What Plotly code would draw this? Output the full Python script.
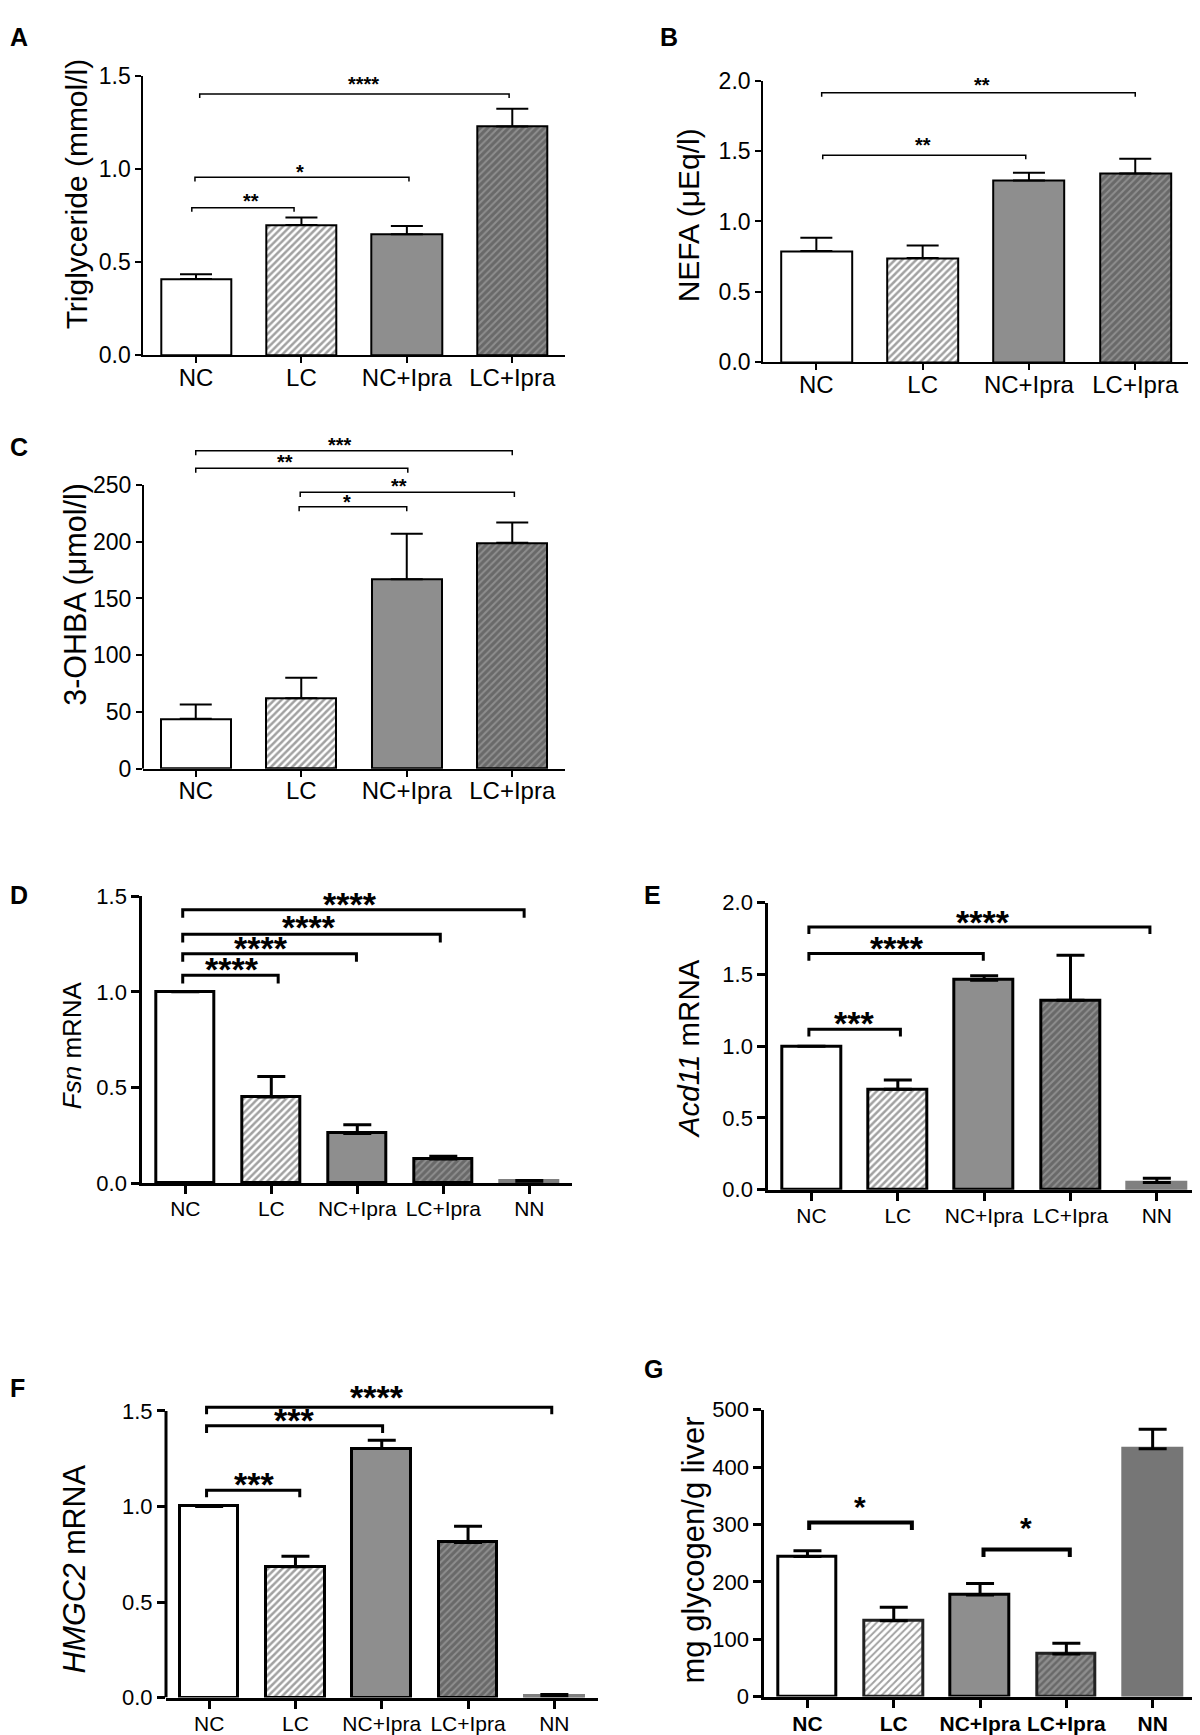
import plotly.graph_objects as go

# measured placement of the figure on the photographed page:
# horizontally it sits behind the 8px body margin, vertically the page
# comes out shifted and slightly squeezed (screen = TOP + SQUEEZE * fig_y)
REF_W, REF_H = 1200, 1735
OFF = 8
TOP, SQUEEZE = 20.4, 0.984
W, H = REF_W - OFF, REF_H - OFF
FONT = "Arial, Liberation Sans, sans-serif"

# ---------------- data ----------------
groups4 = ["NC", "LC", "NC+Ipra", "LC+Ipra"]
groups5 = ["NC", "LC", "NC+Ipra", "LC+Ipra", "NN"]

# A: triglyceride (mmol/l)
tg_mean = [0.41, 0.70, 0.65, 1.23]
tg_sem = [0.025, 0.04, 0.045, 0.095]

# B: NEFA (uEq/l)
nefa_mean = [0.79, 0.74, 1.29, 1.34]
nefa_sem = [0.095, 0.09, 0.055, 0.105]

# C: 3-OHBA (umol/l)
ohba_mean = [44, 62, 167, 199]
ohba_sem = [12.5, 18, 40, 18]

# D: Fsn mRNA
fsn_mean = [1.0, 0.45, 0.26, 0.127, 0.01]
fsn_sem = [None, 0.108, 0.046, 0.014, 0.004]

# E: Acd11 mRNA
acd_mean = [1.0, 0.70, 1.46, 1.32, 0.05]
acd_sem = [None, 0.065, 0.03, 0.313, 0.03]

# F: HMGC2 mRNA
hmg_mean = [1.0, 0.685, 1.303, 0.812, 0.01]
hmg_sem = [None, 0.055, 0.044, 0.085, 0.006]

# G: liver glycogen
gly_mean = [244, 132, 177, 74, 432]
gly_sem = [10, 23.5, 20, 19, 34]

# significance: (from, to, bracket height, label, label x, label y)
tg_sig = [(-0.04, 0.93, 0.793, "**", 0.52, 0.854),
          (-0.01, 2.02, 0.956, "*", 0.99, 1.006),
          (0.035, 2.97, 1.405, "****", 1.59, 1.48)]
nefa_sig = [(0.06, 1.97, 1.469, "**", 1.0, 1.575),
            (0.05, 3.0, 1.913, "**", 1.56, 2.0)]
ohba_sig = [(0.0, 3.0, 280.2, "***", 1.37, 288.7),
            (0.0, 2.01, 264.7, "**", 0.85, 274.3),
            (0.99, 3.02, 243.5, "**", 1.93, 252.9),
            (0.98, 2.0, 230.9, "*", 1.43, 239)]
fsn_sig = [(-0.03, 1.08, 1.086, "****", 0.545, 1.135),
           (-0.03, 1.99, 1.199, "****", 0.875, 1.248),
           (-0.03, 2.965, 1.300, "****", 1.44, 1.357),
           (-0.03, 3.94, 1.429, "****", 1.92, 1.479)]
acd_sig = [(-0.03, 1.03, 1.118, "***", 0.49, 1.188),
           (-0.03, 1.99, 1.645, "****", 0.99, 1.71),
           (-0.03, 3.92, 1.831, "****", 1.99, 1.891)]
hmg_sig = [(-0.03, 1.05, 1.085, "***", 0.52, 1.138),
           (-0.03, 2.01, 1.422, "***", 0.98, 1.47),
           (-0.03, 3.97, 1.519, "****", 1.94, 1.59)]
gly_sig = [(0.02, 1.21, 303.4, "*", 0.61, 342),
           (2.04, 3.04, 256.4, "*", 2.53, 305.7)]

# ---------------- styles ----------------
GRAY = "#8e8e8e"
open_bar = dict(fill="white", edge="black", shape="", fg="black", size=5, sol=0.3)
hatch = dict(fill="white", edge="black", shape="/", fg="black", size=5, sol=0.5)
gray_bar = dict(fill=GRAY, edge="black", shape="", fg="black", size=5, sol=0.3)
dark_hatch = dict(fill=GRAY, edge="black", shape="/", fg="black", size=5, sol=0.6)
nn_bar = dict(fill="#808080", edge="#808080", shape="", fg="black", size=5, sol=0.3)
g_hatch = dict(fill="white", edge="#222222", shape="/", fg="#999999", size=5, sol=0.4)
g_dark = dict(fill=GRAY, edge="#222222", shape="/", fg="#333333", size=5, sol=0.5)
g_nn = dict(fill="#767676", edge="#767676", shape="", fg="black", size=5, sol=0.3)

looks4 = [open_bar, hatch, gray_bar, dark_hatch]
looks5 = [open_bar, hatch, gray_bar, dark_hatch, nn_bar]
looks_g = [open_bar, g_hatch, gray_bar, g_dark, g_nn]

THIN = dict(axis=2, bar=2, err=2, cap=16, tick=6, tickfont=23, catfont=24,
            catpull=-6, star=20, starshift=-4.4, brk=1.5, barw=0.667, bold=False)
THICK = dict(axis=3, bar=3, err=3, cap=14, tick=8, tickfont=22, catfont=21,
             catpull=-3, star=34, starshift=-3.5, brk=3, barw=0.68, bold=False)
THICK_G = dict(THICK, star=30, starshift=-6.6, brk=4, bold=True, catpull=-2)

fig = go.Figure()
layout = {}
shapes = []
notes = []


def px_x(px):
    return (px - OFF) / W


def px_y(py):
    return 1 - ((py - TOP) / SQUEEZE) / H


def add_panel(k, cats, mean, sem, looks, box_x, box_y, y_range, y_ticks, y_fmt,
              sig, drop, st):
    xa = "x" if k == 1 else f"x{k}"
    ya = "y" if k == 1 else f"y{k}"
    n = len(cats)
    xs = list(range(n))
    fig.add_trace(go.Bar(
        x=xs, y=mean, xaxis=xa, yaxis=ya, width=st["barw"],
        marker=dict(
            color=[l["fill"] for l in looks],
            line=dict(color=[l["edge"] for l in looks], width=st["bar"]),
            pattern=dict(shape=[l["shape"] for l in looks],
                         fgcolor=[l["fg"] for l in looks],
                         bgcolor=[l["fill"] for l in looks],
                         size=[l["size"] for l in looks],
                         solidity=[l["sol"] for l in looks])),
        error_y=dict(type="data", symmetric=False, array=sem,
                     arrayminus=[None if s is None else 0 for s in sem],
                     color="black", thickness=st["err"], width=st["cap"]),
        hoverinfo="skip", showlegend=False))

    own_line = y_range[1] > y_ticks[-1]
    ticktext = [f"<b>{c}</b>" for c in cats] if st["bold"] else cats
    layout["xaxis" if k == 1 else f"xaxis{k}"] = dict(
        domain=[px_x(box_x[0]), min(px_x(box_x[1]), 1.0)], range=[-0.5, n - 0.5],
        anchor=ya, tickvals=xs, ticktext=ticktext, showline=True,
        linecolor="black", linewidth=st["axis"], ticks="outside",
        ticklen=st["tick"], tickwidth=st["axis"], tickcolor="black",
        ticklabelstandoff=st["catpull"],
        showgrid=False, zeroline=False,
        tickfont=dict(size=st["catfont"], color="black"), fixedrange=True)
    layout["yaxis" if k == 1 else f"yaxis{k}"] = dict(
        domain=[px_y(box_y[0]), px_y(box_y[1])], range=y_range, anchor=xa,
        tickvals=y_ticks, tickformat=y_fmt, showline=not own_line,
        linecolor="black", linewidth=st["axis"], ticks="outside",
        ticklen=st["tick"], tickwidth=st["axis"], tickcolor="black",
        showgrid=False, zeroline=False,
        tickfont=dict(size=st["tickfont"], color="black"), fixedrange=True)
    if own_line:
        shapes.append(dict(type="line", xref=f"{xa} domain", yref=ya,
                           x0=0, x1=0, y0=0, y1=y_ticks[-1],
                           line=dict(color="black", width=st["axis"])))

    for x0, x1, h, label, lx, ly in sig:
        shapes.append(dict(
            type="path", xref=xa, yref=ya, layer="above",
            path=f"M{x0},{h - drop} L{x0},{h} L{x1},{h} L{x1},{h - drop}",
            line=dict(color="black", width=st["brk"])))
        notes.append(dict(
            x=lx, y=ly, xref=xa, yref=ya, text=f"<b>{label}</b>",
            showarrow=False, xanchor="center", yanchor="middle",
            yshift=st["starshift"],
            font=dict(size=st["star"], color="black")))


add_panel(1, groups4, tg_mean, tg_sem, looks4, (143.3, 565), (355, 75.7),
          [0, 1.5], [0, 0.5, 1.0, 1.5], ".1f", tg_sig, 0.022, THIN)
add_panel(2, groups4, nefa_mean, nefa_sem, looks4, (763.2, 1188.4), (362.3, 80),
          [0, 2.0], [0, 0.5, 1.0, 1.5, 2.0], ".1f", nefa_sig, 0.028, THIN)
add_panel(3, groups4, ohba_mean, ohba_sem, looks4, (143, 565), (769.1, 428.2),
          [0, 300], [0, 50, 100, 150, 200, 250], "d", ohba_sig, 4.0, THIN)
add_panel(4, groups5, fsn_mean, fsn_sem, looks5, (142.3, 572.3), (1184.3, 896.7),
          [0, 1.5], [0, 0.5, 1.0, 1.5], ".1f", fsn_sig, 0.042, THICK)
add_panel(5, groups5, acd_mean, acd_sem, looks5, (768.3, 1200), (1190.7, 903.3),
          [0, 2.0], [0, 0.5, 1.0, 1.5, 2.0], ".1f", acd_sig, 0.05, THICK)
add_panel(6, groups5, hmg_mean, hmg_sem, looks5, (166, 597.5), (1699.3, 1389.3),
          [0, 1.62], [0, 0.5, 1.0, 1.5], ".1f", hmg_sig, 0.037, THICK)
add_panel(7, groups5, gly_mean, gly_sem, looks_g, (764.3, 1195.8), (1698.3, 1411),
          [0, 500], [0, 100, 200, 300, 400, 500], "d", gly_sig, 13, THICK_G)

# axis titles
titles = [("Triglyceride (mmol/l)", 76, 194, 30),
          ("NEFA (μEq/l)", 688, 215, 30),
          ("3-OHBA (μmol/l)", 76, 595, 30.5),
          ("<i>Fsn</i> mRNA", 72, 1046, 26),
          ("<i>Acd11</i> mRNA", 688, 1050, 29.5),
          ("<i>HMGC2</i> mRNA", 74, 1571, 30.5),
          ("mg glycogen/g liver", 693, 1552, 31)]
for text, px, py, size in titles:
    notes.append(dict(x=px_x(px), y=px_y(py), xref="paper", yref="paper",
                      text=text, textangle=-90, showarrow=False,
                      xanchor="center", yanchor="middle",
                      font=dict(size=size, color="black")))

# panel letters (top edge of the letter box)
letters = [("A", 8, 4), ("B", 658, 4), ("C", 8, 431), ("D", 8, 880),
           ("E", 642, 880), ("F", 8, 1373), ("G", 642, 1354)]
for text, px, py in letters:
    notes.append(dict(x=px_x(px), y=min(px_y(py), 1.0), xref="paper",
                      yref="paper", text=f"<b>{text}</b>", showarrow=False,
                      xanchor="left", yanchor="top",
                      font=dict(size=25, color="black")))

fig.update_layout(
    width=W, height=H, margin=dict(l=0, r=0, t=0, b=0),
    plot_bgcolor="white", paper_bgcolor="white",
    font=dict(family=FONT, color="black"),
    showlegend=False, bargap=0, shapes=shapes, annotations=notes, **layout)

fig.write_html("out.html")
